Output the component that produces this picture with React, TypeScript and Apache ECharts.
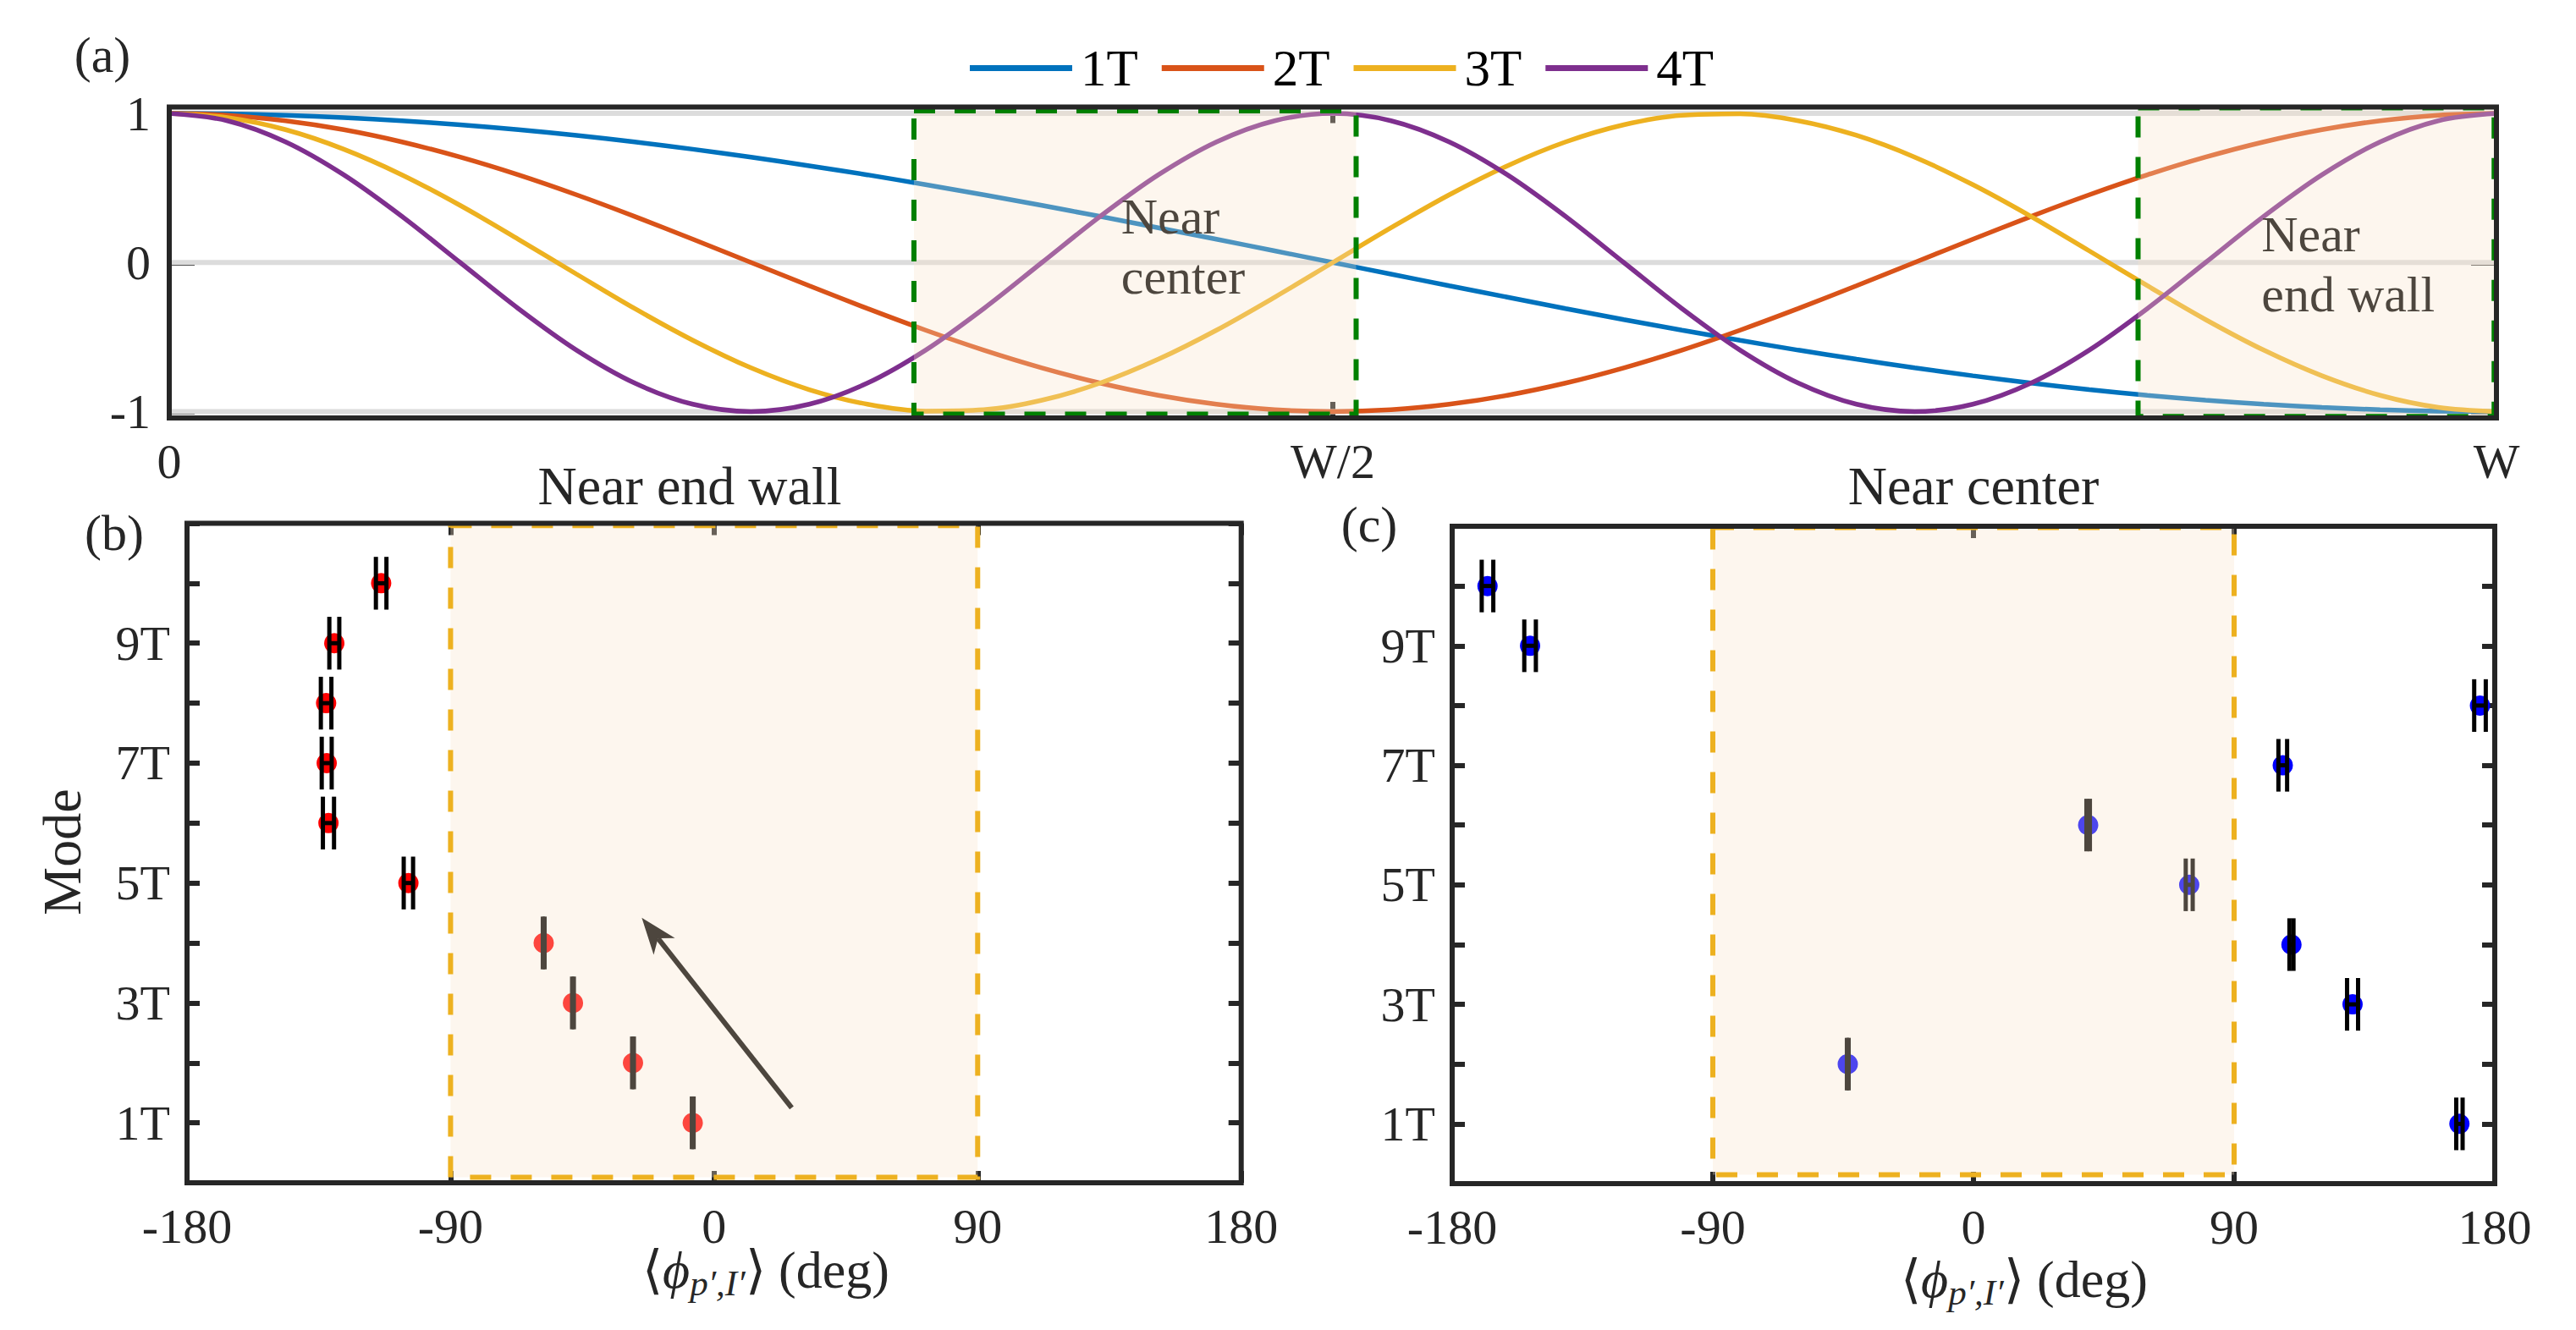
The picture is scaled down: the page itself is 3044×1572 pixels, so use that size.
import React, { useEffect, useRef } from 'react';
import * as echarts from 'echarts';

const FONT = 'Liberation Serif';
const INK = '#262626';

// ---------- data: panel (a) ----------
const aX = [0, 0.025, 0.05, 0.075, 0.1, 0.125, 0.15, 0.175, 0.2, 0.225, 0.25, 0.275, 0.3, 0.325, 0.35, 0.375, 0.4, 0.425, 0.45, 0.475, 0.5,
  0.525, 0.55, 0.575, 0.6, 0.625, 0.65, 0.675, 0.7, 0.725, 0.75, 0.775, 0.8, 0.825, 0.85, 0.875, 0.9, 0.925, 0.95, 0.975, 1];
const mode1T = [1, 0.997, 0.988, 0.972, 0.951, 0.924, 0.891, 0.853, 0.809, 0.76, 0.707, 0.649, 0.588, 0.522, 0.454, 0.383, 0.309, 0.233, 0.156, 0.078, 0,
  -0.078, -0.156, -0.233, -0.309, -0.383, -0.454, -0.522, -0.588, -0.649, -0.707, -0.76, -0.809, -0.853, -0.891, -0.924, -0.951, -0.972, -0.988, -0.997, -1];
const mode2T = [1, 0.988, 0.951, 0.891, 0.809, 0.707, 0.588, 0.454, 0.309, 0.156, 0, -0.156, -0.309, -0.454, -0.588, -0.707, -0.809, -0.891, -0.951, -0.988, -1,
  -0.988, -0.951, -0.891, -0.809, -0.707, -0.588, -0.454, -0.309, -0.156, 0, 0.156, 0.309, 0.454, 0.588, 0.707, 0.809, 0.891, 0.951, 0.988, 1];
const mode3T = [1, 0.972, 0.891, 0.76, 0.588, 0.383, 0.156, -0.078, -0.309, -0.522, -0.707, -0.853, -0.951, -0.997, -0.988, -0.924, -0.809, -0.649, -0.454, -0.233, 0,
  0.233, 0.454, 0.649, 0.809, 0.924, 0.988, 0.997, 0.951, 0.853, 0.707, 0.522, 0.309, 0.078, -0.156, -0.383, -0.588, -0.76, -0.891, -0.972, -1];
const mode4T = [1, 0.951, 0.809, 0.588, 0.309, 0, -0.309, -0.588, -0.809, -0.951, -1, -0.951, -0.809, -0.588, -0.309, 0, 0.309, 0.588, 0.809, 0.951, 1,
  0.951, 0.809, 0.588, 0.309, 0, -0.309, -0.588, -0.809, -0.951, -1, -0.951, -0.809, -0.588, -0.309, 0, 0.309, 0.588, 0.809, 0.951, 1];
const curveNames = ['1T', '2T', '3T', '4T'];
const curveColors = ['#0072BD', '#D95319', '#EDB120', '#7E2F8E'];
const aTickValues = [-1, 0, 1];
const aXTickLabels: Record<string, string> = { '0': '0', '0.5': 'W/2', '1': 'W' };
const aGridY = [1, 0, -1];
// regions [x0, x1, y0, y1]
const aRegions = [[0.32, 0.51, -1.018, 1.017], [0.846, 0.999, -1.033, 1.037]];
const aNoteX = [0.409, 0.899];
const aNoteY = [0.108, -0.011];
const aNoteText = ['Near\ncenter', 'Near\nend wall'];

// ---------- data: panels (b), (c) ----------
const modes = [1, 2, 3, 4, 5, 6, 7, 8, 9, 10];
const bPhase = [-7.3, -27.7, -48.2, -58.2, -104.4, -131.7, -132.3, -132.5, -129.7, -113.7];
const bErr = [0.3, 0.3, 0.3, 0.3, 1.6, 1.9, 1.7, 1.8, 1.7, 1.8];
const cPhase = [167.8, -43.4, 130.9, 109.8, 74.5, 39.6, 106.8, 174.9, -153.1, -167.8];
const cErr = [1.1, 0.3, 1.9, 0.7, 1.2, 0.6, 1.5, 2.0, 2.0, 2.0];
const bRegion = [[-90, 90, 0.09, 10.96]];
const cRegion = [[-90, 90, 0.15, 10.98]];
const arrowTail = [26.5, 1.25];
const arrowTip = [-24.7, 4.42];

// ---------- layout ----------
const GA = { left: 200, top: 126.5, width: 2750, height: 367.5 };
const GB = { left: 221, top: 618.5, width: 1245.7, height: 779.5 };
const GC = { left: 1716, top: 622, width: 1232, height: 777 };
const OVERLAY = 'rgba(248,226,200,0.31)';
const CAP = 0.44;

function overlayRender(stroke: string) {
  return (params: any, api: any) => {
    const p0 = api.coord([api.value(0), api.value(3)]);
    const p1 = api.coord([api.value(1), api.value(2)]);
    return {
      type: 'rect',
      shape: { x: p0[0], y: p0[1], width: p1[0] - p0[0], height: p1[1] - p0[1] },
      style: { fill: OVERLAY, stroke, lineWidth: 6, lineDash: [25, 23] },
    };
  };
}

function errRender(params: any, api: any) {
  const x = api.value(0), y = api.value(1), e = api.value(2);
  const pl = api.coord([x - e, y]);
  const pr = api.coord([x + e, y]);
  const pt = api.coord([x, y + CAP]);
  const pb = api.coord([x, y - CAP]);
  const h = (pb[1] - pt[1]) / 2;
  const st = { stroke: '#000', lineWidth: 5 };
  return {
    type: 'group',
    children: [
      { type: 'line', shape: { x1: pl[0], y1: pl[1], x2: pr[0], y2: pr[1] }, style: st },
      { type: 'line', shape: { x1: pl[0], y1: pl[1] - h, x2: pl[0], y2: pl[1] + h }, style: st },
      { type: 'line', shape: { x1: pr[0], y1: pr[1] - h, x2: pr[0], y2: pr[1] + h }, style: st },
    ],
  };
}

function arrowRender(params: any, api: any) {
  const t = api.coord([api.value(0), api.value(1)]);
  const h = api.coord([api.value(2), api.value(3)]);
  const dx = h[0] - t[0], dy = h[1] - t[1];
  const len = Math.hypot(dx, dy);
  const ux = dx / len, uy = dy / len;
  const nx = -uy, ny = ux;
  const L = 43, HW = 16, N = 31;
  const base = [h[0] - ux * N, h[1] - uy * N];
  return {
    type: 'group',
    children: [
      { type: 'line', shape: { x1: t[0], y1: t[1], x2: base[0], y2: base[1] }, style: { stroke: '#000', lineWidth: 6 } },
      {
        type: 'polygon',
        shape: {
          points: [
            [h[0], h[1]],
            [h[0] - ux * L + nx * HW, h[1] - uy * L + ny * HW],
            base,
            [h[0] - ux * L - nx * HW, h[1] - uy * L - ny * HW],
          ],
        },
        style: { fill: '#000' },
      },
    ],
  };
}

function noteRender(params: any, api: any) {
  const p = api.coord([api.value(0), api.value(1)]);
  const text = aNoteText[params.dataIndex];
  return {
    type: 'text',
    x: p[0],
    y: p[1],
    style: {
      text,
      fill: '#000',
      fontSize: 60,
      fontFamily: FONT,
      lineHeight: 71,
      align: 'left',
      textAlign: 'left',
      verticalAlign: 'middle',
      textVerticalAlign: 'middle',
    },
  };
}

function gridLineRender(params: any, api: any) {
  const p0 = api.coord([api.value(0), api.value(2)]);
  const p1 = api.coord([api.value(1), api.value(2)]);
  return { type: 'line', shape: { x1: p0[0], y1: p0[1], x2: p1[0], y2: p1[1] }, style: { stroke: '#dcdcdc', lineWidth: 6 } };
}

const tickStyle = (len: number) => ({ show: true, inside: true, length: len, lineStyle: { color: INK, width: 6 } });
const labelBase = { fontSize: 58, fontFamily: FONT, color: INK };
const noLine = { show: false, onZero: false };

function xAxes(gridIndex: number, min: number, max: number, interval: number, fmt: (v: number) => string, tickLen: number) {
  const common = {
    gridIndex, type: 'value', min, max, interval,
    axisLine: noLine, splitLine: { show: false }, axisTick: tickStyle(tickLen),
  };
  return [
    { ...common, position: 'bottom', axisLabel: { ...labelBase, margin: 22, formatter: fmt, showMinLabel: true, showMaxLabel: true } },
    { ...common, position: 'top', axisLabel: { show: false } },
  ];
}

function text(x: number, y: number, t: string, size: number, extra: any = {}) {
  return {
    type: 'text', x, y, z: 100, silent: true, ...extra,
    style: { text: t, fill: INK, fontSize: size, fontFamily: FONT, align: 'center', textAlign: 'center', verticalAlign: 'middle', textVerticalAlign: 'middle' },
  };
}

function richLabel(x: number, y: number) {
  return {
    type: 'text', x, y, z: 100, silent: true,
    style: {
      text: '{n|⟨}{p|ϕ}{s|p′,I′}{n|⟩ (deg)}',
      fill: INK, align: 'center', textAlign: 'center', verticalAlign: 'middle', textVerticalAlign: 'middle',
      rich: {
        n: { fontSize: 62, fontFamily: FONT, fill: INK, lineHeight: 74 },
        p: { fontSize: 62, fontFamily: FONT, fontStyle: 'italic', fill: INK, lineHeight: 74 },
        s: { fontSize: 43, fontFamily: FONT, fontStyle: 'italic', fill: INK, lineHeight: 38, verticalAlign: 'bottom' },
      },
    },
  };
}

function frame(g: any) {
  return { type: 'rect', z: 100, silent: true, shape: { x: g.left, y: g.top, width: g.width, height: g.height }, style: { fill: 'none', stroke: INK, lineWidth: 6 } };
}

export default function App() {
  const ref = useRef<HTMLDivElement>(null);
  useEffect(() => {
    if (!ref.current) return;
    const chart = echarts.init(ref.current, undefined, { renderer: 'svg' });
    const curves = [mode1T, mode2T, mode3T, mode4T];
    const modeFmt = (v: number) => (v % 2 === 1 && v < 10 ? `${v}T` : '');
    const yPanel = (gridIndex: number, position: string, showLabel: boolean) => ({
      gridIndex, type: 'value', min: 0, max: 11, interval: 1, position,
      axisLine: noLine, splitLine: { show: false }, axisTick: tickStyle(15),
      axisLabel: showLabel ? { ...labelBase, margin: 20, formatter: modeFmt } : { show: false },
    });
    const option: any = {
      animation: false,
      textStyle: { fontFamily: FONT },
      grid: [
        { ...GA, containLabel: false, outerBoundsMode: 'none' },
        { ...GB, containLabel: false, outerBoundsMode: 'none' },
        { ...GC, containLabel: false, outerBoundsMode: 'none' },
      ],
      legend: {
        data: curveNames, left: 1141, top: 45, icon: 'rect', itemWidth: 121, itemHeight: 7, itemGap: 28,
        selectedMode: false,
        textStyle: { fontSize: 61, fontFamily: FONT, color: '#000', padding: [0, 0, 0, 5] },
      },
      xAxis: [
        ...xAxes(0, 0, 1, 0.5, (v: number) => aXTickLabels[String(v)] ?? '', 19),
        ...xAxes(1, -180, 180, 90, (v: number) => String(v), 14),
        ...xAxes(2, -180, 180, 90, (v: number) => String(v), 14),
      ],
      yAxis: [
        {
          gridIndex: 0, type: 'value', min: -1.043, max: 1.043, position: 'left',
          axisLine: noLine, splitLine: { show: false },
          axisTick: { ...tickStyle(30), customValues: aTickValues },
          axisLabel: { ...labelBase, margin: 22, customValues: aTickValues, formatter: (v: number) => String(v) },
        },
        {
          gridIndex: 0, type: 'value', min: -1.043, max: 1.043, position: 'right',
          axisLine: noLine, splitLine: { show: false },
          axisTick: { ...tickStyle(30), customValues: aTickValues },
          axisLabel: { show: false, customValues: aTickValues },
        },
        yPanel(1, 'left', true),
        yPanel(1, 'right', false),
        yPanel(2, 'left', true),
        yPanel(2, 'right', false),
      ],
      series: [
        {
          type: 'custom', xAxisIndex: 0, yAxisIndex: 0, z: 1, silent: true,
          data: aGridY.map((v) => [0, 1, v]), encode: { x: [0, 1], y: 2 }, renderItem: gridLineRender,
        },
        ...curves.map((arr, i) => ({
          type: 'line', name: curveNames[i], xAxisIndex: 0, yAxisIndex: 0, z: 2,
          data: aX.map((x, k) => [x, arr[k]]), smooth: 0.33, showSymbol: false, symbol: 'none',
          lineStyle: { color: curveColors[i], width: 5.5 }, itemStyle: { color: curveColors[i] },
          emphasis: { disabled: true },
        })),
        {
          type: 'custom', xAxisIndex: 0, yAxisIndex: 0, z: 3, silent: true,
          data: aNoteX.map((x, i) => [x, aNoteY[i]]), encode: { x: 0, y: 1 }, renderItem: noteRender,
        },
        {
          type: 'custom', xAxisIndex: 0, yAxisIndex: 0, z: 5, silent: true,
          data: aRegions, encode: { x: [0, 1], y: [2, 3] }, renderItem: overlayRender('#008000'),
        },
        // panel b
        {
          type: 'scatter', xAxisIndex: 2, yAxisIndex: 2, z: 2, symbolSize: 24,
          data: bPhase.map((p, i) => [p, modes[i]]), itemStyle: { color: '#ff0000', opacity: 1 },
        },
        {
          type: 'custom', xAxisIndex: 2, yAxisIndex: 2, z: 3, silent: true,
          data: bPhase.map((p, i) => [p, modes[i], bErr[i]]), encode: { x: 0, y: 1 }, renderItem: errRender,
        },
        {
          type: 'custom', xAxisIndex: 2, yAxisIndex: 2, z: 3, silent: true,
          data: [[arrowTail[0], arrowTail[1], arrowTip[0], arrowTip[1]]], encode: { x: [0, 2], y: [1, 3] }, renderItem: arrowRender,
        },
        {
          type: 'custom', xAxisIndex: 2, yAxisIndex: 2, z: 5, silent: true,
          data: bRegion, encode: { x: [0, 1], y: [2, 3] }, renderItem: overlayRender('#EDB120'),
        },
        // panel c
        {
          type: 'scatter', xAxisIndex: 4, yAxisIndex: 4, z: 2, symbolSize: 24,
          data: cPhase.map((p, i) => [p, modes[i]]), itemStyle: { color: '#0000ff', opacity: 1 },
        },
        {
          type: 'custom', xAxisIndex: 4, yAxisIndex: 4, z: 3, silent: true,
          data: cPhase.map((p, i) => [p, modes[i], cErr[i]]), encode: { x: 0, y: 1 }, renderItem: errRender,
        },
        {
          type: 'custom', xAxisIndex: 4, yAxisIndex: 4, z: 5, silent: true,
          data: cRegion, encode: { x: [0, 1], y: [2, 3] }, renderItem: overlayRender('#EDB120'),
        },
      ],
      graphic: [
        frame(GA), frame(GB), frame(GC),
        text(121, 65, '(a)', 60),
        text(135, 630, '(b)', 60),
        text(1618, 620, '(c)', 60),
        text(815, 574, 'Near end wall', 64),
        text(GC.left + GC.width / 2, 574, 'Near center', 64),
        text(73, 1007, 'Mode', 64, { rotation: Math.PI / 2 }),
        richLabel(905, 1501),
        richLabel(2392, 1512),
      ],
    };
    chart.setOption(option);
    return () => chart.dispose();
  }, []);
  return <div ref={ref} style={{ position: 'fixed', left: 0, top: 0, width: 3044, height: 1572, background: '#fff' }} />;
}
